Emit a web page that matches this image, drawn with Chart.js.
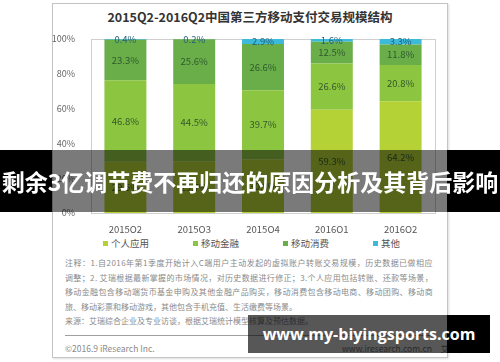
<!DOCTYPE html>
<html>
<head>
<meta charset="utf-8">
<script src="https://cdn.jsdelivr.net/npm/chart.js@4.4.1/dist/chart.umd.min.js"></script>
<style>
  body { margin: 0; width: 500px; height: 362px; background: #fff; overflow: hidden; position: relative; font-family: "Noto Sans CJK SC", sans-serif; }
  .card { position: absolute; left: 52px; top: 3px; width: 394px; height: 353px; border: 1px solid #c4c4c4; box-shadow: 1px 1px 2px #ddd; }
  .title { position: absolute; left: 52px; width: 396px; top: 7px; text-align: center; font-size: 12.5px; font-weight: bold; color: #333; }
  #chartBox { position: absolute; left: 52px; top: 25px; width: 395px; height: 208px; }
  .legend { position: absolute; left: 103px; top: 236px; height: 14px; display: flex; }
  .legend .item { width: 90px; font-size: 9.5px; color: #555; display: flex; align-items: center; }
  .legend .sw { width: 5px; height: 5px; margin-right: 3px; }
  .notes { position: absolute; left: 65px; top: 256px; font-size: 8px; color: #8a8a8a; line-height: 14.5px; }
  .notes div { white-space: nowrap; }
  .sep { position: absolute; left: 65px; top: 335px; width: 369px; height: 1px; background: #a0a0a0; }
  .copy { position: absolute; left: 65px; top: 342px; font-size: 8.5px; color: #8a8a8a; }
  .site { position: absolute; left: 342px; top: 342px; font-size: 8.5px; color: #777; }
  .banner { position: absolute; top: 150px; height: 62px; }
  .btext { position: absolute; left: 0; width: 500px; top: 150px; height: 62px; line-height: 62px; text-align: center; color: #fff; font-size: 23px; font-weight: bold; white-space: nowrap; }
  .wm { position: absolute; top: 315px; height: 38px; }
  .wtext { position: absolute; left: 248px; width: 242px; top: 315px; height: 38px; line-height: 38px; text-align: center; color: #fff; font-family: "Open Sans", sans-serif; font-size: 16px; font-weight: bold; white-space: nowrap; }
</style>
</head>
<body>
<div class="card"></div>
<div class="title">2015Q2-2016Q2中国第三方移动支付交易规模结构</div>
<div id="chartBox"><canvas id="c"></canvas></div>
<div class="legend" id="legend"></div>
<div class="notes">
  <div class="j">注释：1.自2016年第1季度开始计入C端用户主动发起的虚拟账户转账交易规模，历史数据已做相应</div>
  <div class="j">调整；2. 艾瑞根据最新掌握的市场情况，对历史数据进行修正；3.个人应用包括转账、还款等场景，</div>
  <div class="j">移动金融包含移动端货币基金申购及其他金融产品购买，移动消费包含移动电商、移动团购、移动商</div>
  <div>旅、移动彩票和移动游戏，其他包含手机充值、生活缴费等场景。</div>
  <div>来源：艾瑞综合企业及专业访谈，根据艾瑞统计模型核算及预估数据。</div>
</div>
<div class="sep"></div>
<div class="copy">©2016.9 iResearch Inc.</div>
<div class="site">www.iresearch.com.cn　艾瑞咨询</div>

<div class="banner" style="left:0;width:52px;background:#000"></div>
<div class="banner" style="left:52px;width:395px;background:rgba(0,0,0,0.52)"></div>
<div class="banner" style="left:447px;width:53px;background:#000"></div>
<div class="btext">剩余3亿调节费不再归还的原因分析及其背后影响</div>

<div class="wm" style="left:248px;width:199px;background:rgba(0,0,0,0.66)"></div>
<div class="wm" style="left:447px;width:43px;background:#000"></div>
<div class="wtext">www.my-biyingsports.com</div>

<script>
const quarters = ["2015Q2", "2015Q3", "2015Q4", "2016Q1", "2016Q2"];
const seriesNames = ["个人应用", "移动金融", "移动消费", "其他"];
const personal = [29.5, 29.7, 30.8, 59.3, 64.2];
const finance = [46.8, 44.5, 39.7, 26.6, 20.8];
const consume = [23.3, 25.6, 26.6, 12.5, 11.8];
const other = [0.4, 0.2, 2.9, 1.6, 3.3];
const yTicks = [0, 20, 40, 60, 80, 100];

const colorList = ["#b4d236", "#8cc540", "#6aae4a", "#3dbad9"];
const labelColors = ["#33582a", "#33582a", "#2f5a2c", "#22607a"];

const font = '"Noto Sans CJK SC", sans-serif';
Chart.defaults.font.family = font;

// 每段中间写数值
const segLabels = {
  id: "segLabels",
  afterDatasetsDraw(chart) {
    const ctx = chart.ctx;
    ctx.save();
    ctx.font = "9.5px " + font;
    ctx.textAlign = "center";
    ctx.textBaseline = "middle";
    chart.data.datasets.forEach((ds, i) => {
      const meta = chart.getDatasetMeta(i);
      meta.data.forEach((bar, j) => {
        const p = bar.getCenterPoint();
        ctx.fillStyle = labelColors[i];
        ctx.fillText(ds.data[j].toFixed(1) + "%", p.x, p.y);
      });
    });
    ctx.restore();
  },
};

const frame = {
  id: "frame",
  beforeDatasetsDraw(chart) {
    const a = chart.chartArea;
    const ctx = chart.ctx;
    ctx.save();
    ctx.strokeStyle = "#cfcfcf";
    ctx.lineWidth = 1;
    ctx.strokeRect(Math.round(a.left) + 0.5, Math.round(a.top) + 0.5, a.right - a.left, a.bottom - a.top);
    ctx.restore();
  },
};

const allData = [personal, finance, consume, other];

new Chart(document.getElementById("c"), {
  type: "bar",
  data: {
    labels: quarters,
    datasets: allData.map((d, i) => ({
      label: seriesNames[i],
      data: d,
      backgroundColor: colorList[i],
      barPercentage: 0.61,
      categoryPercentage: 1,
    })),
  },
  options: {
    animation: false,
    responsive: true,
    maintainAspectRatio: false,
    events: [],
    layout: { padding: { top: 14, right: 12, left: 0, bottom: 0 } },
    scales: {
      x: {
        stacked: true,
        grid: { display: false },
        border: { display: false },
        ticks: { color: "#555", font: { size: 9.5 }, padding: 3 },
        afterFit: s => { s.height = 20; },
      },
      y: {
        stacked: true,
        min: 0,
        max: 100,
        afterBuildTicks: s => { s.ticks = yTicks.map(v => ({ value: v })); },
        grid: { display: false },
        border: { display: false },
        ticks: { color: "#666", font: { size: 9 }, padding: 8, callback: v => v + "%" },
        afterFit: s => { s.width = 39; },
      },
    },
    plugins: {
      legend: { display: false },
      tooltip: { enabled: false },
    },
  },
  plugins: [frame, segLabels],
});

// 图例
const lg = document.getElementById("legend");
seriesNames.forEach((n, i) => {
  const it = document.createElement("div");
  it.className = "item";
  it.innerHTML = '<span class="sw" style="background:' + colorList[i] + '"></span>' + n;
  lg.appendChild(it);
});

// 注释前三行撑满到右边
document.querySelectorAll(".notes .j").forEach(el => {
  el.style.display = "inline-block";
  const w = el.getBoundingClientRect().width;
  const n = el.textContent.length;
  el.style.letterSpacing = ((368 - w) / n) + "px";
  el.style.display = "block";
});
</script>
</body>
</html>
